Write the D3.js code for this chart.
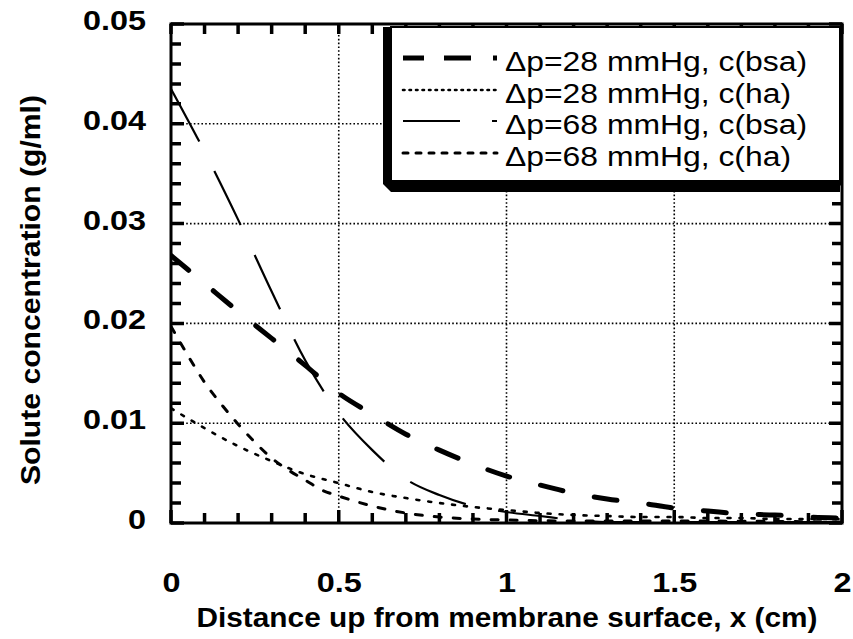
<!DOCTYPE html>
<html>
<head>
<meta charset="utf-8">
<script src="https://cdn.jsdelivr.net/npm/d3@7"></script>
<style>
  body { margin: 0; background: #fff; }
  svg text { font-family: "Liberation Sans", Arial, Helvetica, sans-serif; fill: #000; }
</style>
</head>
<body>
<svg id="chart" width="853" height="639"></svg>
<script>
// ---- data ----
const xTickValues = [0, 0.5, 1, 1.5, 2];
const xTickLabels = ['0', '0.5', '1', '1.5', '2'];
const yTickValues = [0, 0.01, 0.02, 0.03, 0.04, 0.05];
const yTickLabels = ['0', '0.01', '0.02', '0.03', '0.04', '0.05'];

// dp = 28 mmHg, bsa
const xBsa28 = [0, 0.1, 0.2, 0.3, 0.4, 0.5, 0.6, 0.7, 0.8, 0.9, 1.0, 1.1, 1.2, 1.3, 1.4, 1.5, 1.6, 1.7, 1.8, 1.9, 2.0];
const cBsa28 = [0.0268, 0.0240, 0.0212, 0.0185, 0.0158, 0.0130, 0.0109, 0.0089, 0.0073, 0.0059, 0.0047, 0.0038, 0.0030, 0.0024, 0.0020, 0.0015, 0.0012, 0.0009, 0.0008, 0.0006, 0.0005];

// dp = 28 mmHg, ha
const xHa28 = [0, 0.1, 0.2, 0.3, 0.4, 0.5, 0.6, 0.7, 0.8, 0.9, 1.0, 1.1, 1.2, 1.3, 1.4, 1.5, 1.6, 1.7, 1.8, 1.9, 2.0];
const cHa28 = [0.0115, 0.0095, 0.0077, 0.0062, 0.0049, 0.0040, 0.0031, 0.0025, 0.0020, 0.0016, 0.0013, 0.0010, 0.0008, 0.0007, 0.0006, 0.0006, 0.0005, 0.0005, 0.0004, 0.0004, 0.0004];

// dp = 68 mmHg, bsa
const xBsa68 = [0, 0.1, 0.2, 0.3, 0.4, 0.5, 0.6, 0.7, 0.8, 0.9, 1.0, 1.1, 1.2, 1.3, 1.5, 1.7, 2.0];
const cBsa68 = [0.0435, 0.0372, 0.0304, 0.0232, 0.0163, 0.0110, 0.0073, 0.0044, 0.0028, 0.0017, 0.0011, 0.0007, 0.0003, 0.0001, 0.0001, 0.0001, 0.0001];

// dp = 68 mmHg, ha
const xHa68 = [0, 0.05, 0.1, 0.15, 0.2, 0.25, 0.3, 0.35, 0.4, 0.45, 0.5, 0.6, 0.7, 0.8, 0.9, 1.0, 1.2, 1.5, 2.0];
const cHa68 = [0.0197, 0.0168, 0.0141, 0.0119, 0.0099, 0.0081, 0.0065, 0.0053, 0.0043, 0.0033, 0.0027, 0.0017, 0.0010, 0.0006, 0.0004, 0.0003, 0.0002, 0.0002, 0.0001];

const legendLabels = ['\u0394p=28 mmHg, c(bsa)', '\u0394p=28 mmHg, c(ha)', '\u0394p=68 mmHg, c(bsa)', '\u0394p=68 mmHg, c(ha)'];

// ---- layout ----
const margin = { left: 171, top: 24, right: 11, bottom: 116 };
const W = 853, H = 639;
const pw = W - margin.left - margin.right;   // 671
const ph = H - margin.top - margin.bottom;   // 499

const svg = d3.select('#chart');
const x = d3.scaleLinear().domain([0, 2]).range([margin.left, margin.left + pw]);
const y = d3.scaleLinear().domain([0, 0.05]).range([margin.top + ph, margin.top]);

// stretch text horizontally (the scanned figure is wider than its font)
function stretch(sel, k) {
  sel.each(function () {
    const w = this.getComputedTextLength();
    d3.select(this).attr('textLength', w * k).attr('lengthAdjust', 'spacingAndGlyphs');
  });
}

// grid (dotted)
const grid = svg.append('g').attr('class', 'grid');
grid.selectAll('line.gx')
  .data(xTickValues.filter(d => d > 0 && d < 2))
  .join('line')
  .attr('class', 'gx')
  .attr('x1', d => x(d)).attr('x2', d => x(d))
  .attr('y1', y(0)).attr('y2', y(0.05))
  .attr('stroke', '#000').attr('stroke-width', 1.6).attr('stroke-dasharray', '1.6,2.2');
grid.selectAll('line.gy')
  .data(yTickValues.filter(d => d > 0 && d < 0.05))
  .join('line')
  .attr('class', 'gy')
  .attr('x1', x(0)).attr('x2', x(2))
  .attr('y1', d => y(d)).attr('y2', d => y(d))
  .attr('stroke', '#000').attr('stroke-width', 1.6).attr('stroke-dasharray', '1.6,2.2');

// inward ticks on all four sides, one path
const xMinor = d3.range(0, 21).map(i => i / 10);
const yMinor = d3.range(0, 26).map(i => i * 0.002);
const isMajorX = d => Math.abs(d * 2 - Math.round(d * 2)) < 1e-6;
const isMajorY = d => Math.abs(d * 100 - Math.round(d * 100)) < 1e-6;
let tickD = '';
xMinor.forEach(d => {
  tickD += `M${x(d)},${y(0)}V${y(0) - (isMajorX(d) ? 13 : 10)}`;
  tickD += `M${x(d)},${y(0.05)}V${y(0.05) + 10}`;
});
yMinor.forEach(d => {
  const len = isMajorY(d) ? 13 : 10;
  tickD += `M${x(0)},${y(d)}H${x(0) + len}`;
  tickD += `M${x(2)},${y(d)}H${x(2) - len}`;
});

// tick labels
const yLab = svg.append('g')
  .attr('transform', `translate(${x(0)},0)`)
  .call(d3.axisLeft(y).tickValues(yTickValues).tickSize(0).tickPadding(25)
    .tickFormat((d, i) => yTickLabels[i]));
yLab.select('.domain').remove();
yLab.selectAll('text')
  .attr('font-size', 27).attr('font-weight', 'bold')
  .attr('dy', '0.2em')
  .call(stretch, 1.2);

const xLab = svg.append('g')
  .attr('transform', `translate(0,${y(0)})`)
  .call(d3.axisBottom(x).tickValues(xTickValues).tickSize(0).tickPadding(69)
    .tickFormat((d, i) => xTickLabels[i]));
xLab.select('.domain').remove();
xLab.selectAll('text')
  .attr('font-size', 27).attr('font-weight', 'bold')
  .attr('dy', '0')
  .call(stretch, 1.2);

// axis titles
svg.append('text')
  .attr('x', 507).attr('y', 627)
  .attr('text-anchor', 'middle')
  .attr('font-size', 27).attr('font-weight', 'bold')
  .attr('textLength', 621).attr('lengthAdjust', 'spacingAndGlyphs')
  .text('Distance up from membrane surface, x (cm)');

svg.append('text')
  .attr('transform', 'translate(40,290) rotate(-90)')
  .attr('text-anchor', 'middle')
  .attr('font-size', 27).attr('font-weight', 'bold')
  .attr('textLength', 390).attr('lengthAdjust', 'spacingAndGlyphs')
  .text('Solute concentration (g/ml)');

// curves
const series = [
  { xs: xBsa28, ys: cBsa28, width: 5, dash: '23,32', cap: 'round', legendDash: '21,20,27,22,5,99', legendCap: 'butt' },
  { xs: xHa28, ys: cHa28, width: 2.6, dash: '3,9', cap: 'round', legendDash: '1.5,5', legendCap: 'round' },
  { xs: xBsa68, ys: cBsa68, width: 2.2, dash: '60,33', cap: 'butt', legendDash: '57,32', legendCap: 'butt' },
  { xs: xHa68, ys: cHa68, width: 3, dash: '7,12', cap: 'round', legendDash: '5,8', legendCap: 'round' }
];

svg.append('clipPath').attr('id', 'plotclip')
  .append('rect')
  .attr('x', x(0)).attr('y', y(0.05)).attr('width', pw).attr('height', ph);

const line = d3.line()
  .x(d => x(d[0]))
  .y(d => y(d[1]))
  .curve(d3.curveMonotoneX);

svg.append('g').attr('clip-path', 'url(#plotclip)')
  .selectAll('path')
  .data(series)
  .join('path')
  .attr('d', s => line(s.xs.map((v, i) => [v, s.ys[i]])))
  .attr('fill', 'none')
  .attr('stroke', '#000')
  .attr('stroke-width', s => s.width)
  .attr('stroke-dasharray', s => s.dash)
  .attr('stroke-linecap', s => s.cap);

// frame
svg.append('rect')
  .attr('x', x(0)).attr('y', y(0.05)).attr('width', pw).attr('height', ph)
  .attr('fill', 'none').attr('stroke', '#000').attr('stroke-width', 3);

// ticks drawn on top of everything except the legend
svg.append('path')
  .attr('class', 'tickmarks')
  .attr('d', tickD)
  .attr('fill', 'none')
  .attr('stroke', '#000')
  .attr('stroke-width', 3.5);

// legend box with heavy left/bottom shadow
const lg = svg.append('g').attr('class', 'legend');
lg.append('rect')
  .attr('x', 391).attr('y', 27).attr('width', 449).attr('height', 154)
  .attr('fill', '#fff').attr('stroke', '#000').attr('stroke-width', 2);
lg.append('path')
  .attr('d', 'M383,27 L391,27 L391,181 L840,181 L840,192 L391,192 L383,184 Z')
  .attr('fill', '#000');

const rowY = [58, 90, 121, 153];
const rows = lg.selectAll('g.row')
  .data(series)
  .join('g')
  .attr('class', 'row')
  .attr('transform', (d, i) => `translate(0,${rowY[i]})`);

rows.append('line')
  .attr('x1', 403).attr('x2', 497).attr('y1', 0).attr('y2', 0)
  .attr('stroke', '#000')
  .attr('stroke-width', d => d.width)
  .attr('stroke-dasharray', d => d.legendDash)
  .attr('stroke-linecap', d => d.legendCap);

const legendWidths = [302, 286, 302, 286];
rows.append('text')
  .attr('x', 505).attr('y', 13)
  .attr('font-size', 27)
  .attr('textLength', (d, i) => legendWidths[i])
  .attr('lengthAdjust', 'spacingAndGlyphs')
  .text((d, i) => legendLabels[i]);
</script>
</body>
</html>
